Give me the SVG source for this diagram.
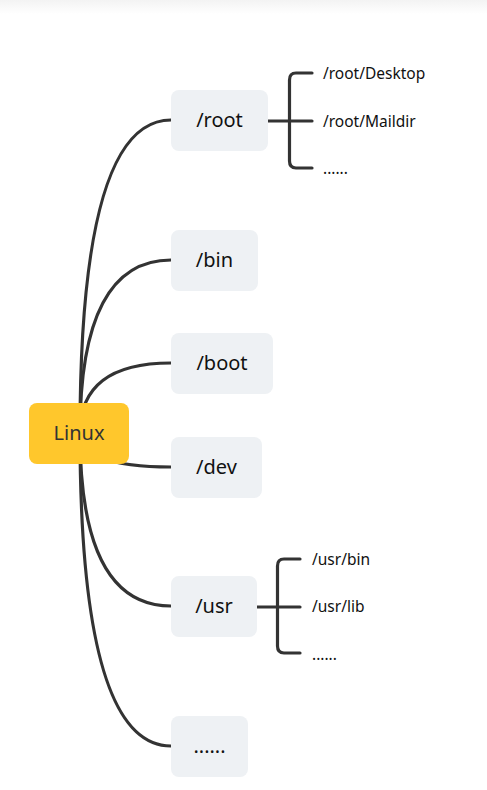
<svg xmlns="http://www.w3.org/2000/svg" width="487" height="790" viewBox="0 0 487 790">
<defs>
<linearGradient id="topfade" x1="0" y1="0" x2="0" y2="1">
<stop offset="0" stop-color="#f3f3f3"/>
<stop offset="1" stop-color="#ffffff"/>
</linearGradient>
<style>
.conn{fill:none;stroke:#333333;stroke-width:3.2;stroke-linecap:round}
.node{fill:#eef1f4}
.main{fill:#ffc72c}
.lbl{font-family:"Noto Sans","Open Sans","Liberation Sans",sans-serif;font-size:20px;fill:#111111;text-anchor:middle}
.sub{font-family:"Noto Sans","Open Sans","Liberation Sans",sans-serif;font-size:15.5px;fill:#111111}
</style>
</defs>
<rect x="0" y="0" width="487" height="790" fill="#ffffff"/>
<rect x="0" y="0" width="487" height="14" fill="url(#topfade)"/>
<g id="connectors">
<path class="conn" d="M80 433 Q80 120 171 120"/>
<path class="conn" d="M80 433 Q80 260 171 260"/>
<path class="conn" d="M80 433 Q80 363 171 363"/>
<path class="conn" d="M80 433 Q80 467 171 467"/>
<path class="conn" d="M80 433 Q80 606 171 606"/>
<path class="conn" d="M80 433 Q80 746 171 746"/>
<path class="conn" d="M268 121 H312 M312 73 H296 Q289.5 73 289.5 80 V161 Q289.5 168 296 168 H312"/>
<path class="conn" d="M257 607 H300 M300 559 H284 Q277.5 559 277.5 566 V646 Q277.5 653 284 653 H300"/>
</g>
<g id="linux">
<rect class="main" x="29" y="403" width="100" height="61" rx="8"/>
<text class="lbl" x="79" y="440" style="fill:#333333">Linux</text>
</g>
<g id="root">
<rect class="node" x="171" y="90" width="97" height="61" rx="8"/>
<text class="lbl" x="219.5" y="127">/root</text>
</g>
<g id="bin">
<rect class="node" x="171" y="230" width="87" height="61" rx="8"/>
<text class="lbl" x="214.5" y="267">/bin</text>
</g>
<g id="boot">
<rect class="node" x="171" y="333" width="102" height="61" rx="8"/>
<text class="lbl" x="222" y="370">/boot</text>
</g>
<g id="dev">
<rect class="node" x="171" y="437" width="91" height="61" rx="8"/>
<text class="lbl" x="216.5" y="474">/dev</text>
</g>
<g id="usr">
<rect class="node" x="171" y="576" width="86" height="61" rx="8"/>
<text class="lbl" x="214" y="613">/usr</text>
</g>
<g id="more">
<rect class="node" x="171" y="716" width="77" height="61" rx="8"/>
<text class="lbl" x="209.5" y="753">......</text>
</g>
<g id="root-desktop"><text class="sub" x="323" y="79">/root/Desktop</text></g>
<g id="root-maildir"><text class="sub" x="323" y="127">/root/Maildir</text></g>
<g id="root-more"><text class="sub" x="323" y="174">......</text></g>
<g id="usr-bin"><text class="sub" x="312" y="565">/usr/bin</text></g>
<g id="usr-lib"><text class="sub" x="312" y="612">/usr/lib</text></g>
<g id="usr-more"><text class="sub" x="312" y="660">......</text></g>
</svg>
